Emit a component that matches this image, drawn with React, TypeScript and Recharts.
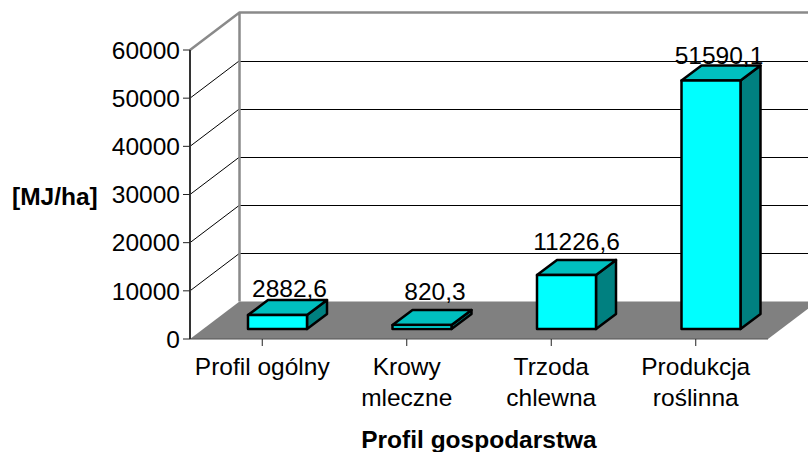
import { BarChart, Bar, XAxis, YAxis, CartesianGrid, LabelList } from 'recharts';

const categories = ['Profil ogólny', 'Krowy\nmleczne', 'Trzoda\nchlewna', 'Produkcja\nroślinna'];
const values = [2882.6, 820.3, 11226.6, 51590.1];
const yTicks = [0, 10000, 20000, 30000, 40000, 50000, 60000];

const data = categories.map((name, i) => ({ name, value: values[i] }));

const FONT = '"Liberation Sans", Arial, sans-serif';
const FONT_SIZE = 24.5;
const WIDTH = 808;
const HEIGHT = 452;
const PLOT_LEFT = 190;
const PLOT_BOTTOM = 339;
const PLOT_TOP = 50;
// 3D offsets of the old spreadsheet look
const WALL_DX = 49.5;
const WALL_DY = 37.5;
const BAR_DX = 15;
const BAR_DY = 10;
const DEPTH_DX = 20;
const DEPTH_DY = 15;
// labels were hand placed in the original
const labelNudge = [
  { dx: 12, dy: -18 },
  { dx: 13, dy: -25 },
  { dx: 10, dy: -25 },
  { dx: 8, dy: -17 },
];

function GridLine(props: any) {
  const { x1, x2, y1 } = props;
  const isFloor = Math.abs(y1 - PLOT_BOTTOM) < 1;
  const isTop = Math.abs(y1 - PLOT_TOP) < 1;
  const bx = x1 + WALL_DX;
  const by = y1 - WALL_DY;
  if (isFloor) {
    return (
      <polygon
        key="floor"
        points={`${x1},${y1} ${x2},${y1} ${x2 + WALL_DX},${by} ${bx},${by}`}
        fill="#808080"
      />
    );
  }
  if (isTop) {
    return (
      <path
        key="top"
        d={`M${x1},${y1} L${bx},${by} L${x2 + WALL_DX},${by} M${bx},${by} L${bx},${PLOT_BOTTOM - WALL_DY}`}
        fill="none"
        stroke="#8a8a8a"
        strokeWidth={2.5}
      />
    );
  }
  return (
    <g key={`line-${y1}`}>
      <line x1={x1} y1={y1} x2={bx} y2={by} stroke="#000" strokeWidth={1} />
      <line x1={bx} y1={by + 0.5} x2={x2 + WALL_DX} y2={by + 0.5} stroke="#000" strokeWidth={1} shapeRendering="crispEdges" />
    </g>
  );
}

function Box3D(props: any) {
  const { x, y, width, height } = props;
  const l = x + BAR_DX;
  const r = l + width;
  const t = y - BAR_DY;
  const b = t + height;
  const edge = { stroke: '#000', strokeWidth: 2.5, strokeLinejoin: 'round' as const };
  return (
    <g>
      <polygon
        points={`${r},${t} ${r + DEPTH_DX},${t - DEPTH_DY} ${r + DEPTH_DX},${b - DEPTH_DY} ${r},${b}`}
        fill="#008080"
        {...edge}
      />
      <polygon
        points={`${l},${t} ${l + DEPTH_DX},${t - DEPTH_DY} ${r + DEPTH_DX},${t - DEPTH_DY} ${r},${t}`}
        fill="#00bfbf"
        {...edge}
      />
      <rect x={l} y={t} width={width} height={height} fill="#00ffff" {...edge} />
    </g>
  );
}

function CategoryTick(props: any) {
  const { x, y, payload } = props;
  const lines = String(payload.value).split('\n');
  return (
    <text x={x} y={y} textAnchor="middle" fontFamily={FONT} fontSize={FONT_SIZE} fill="#000">
      {lines.map((line, i) => (
        <tspan key={line} x={x} y={y + 27 + i * 30.7}>
          {line}
        </tspan>
      ))}
    </text>
  );
}

function ValueLabel(props: any) {
  const { x, y, width, index, value } = props;
  const nudge = labelNudge[index];
  return (
    <text
      x={x + width / 2 + BAR_DX + nudge.dx}
      y={y - BAR_DY + nudge.dy}
      textAnchor="middle"
      fontFamily={FONT}
      fontSize={FONT_SIZE}
      fill="#000"
    >
      {String(value).replace('.', ',')}
    </text>
  );
}

export default function App() {
  return (
    <div style={{ position: 'absolute', left: 0, top: 0, width: WIDTH, height: HEIGHT }}>
      <BarChart
        width={WIDTH}
        height={HEIGHT}
        data={data}
        margin={{ top: PLOT_TOP, right: 40, bottom: 0, left: 0 }}
        barSize={59}
      >
        <CartesianGrid vertical={false} horizontal={(p: any) => <GridLine {...p} />} />
        <XAxis
          dataKey="name"
          height={HEIGHT - PLOT_BOTTOM}
          interval={0}
          tick={<CategoryTick />}
          tickSize={7}
          stroke="#000"
          axisLine={{ stroke: '#555', strokeWidth: 1 }}
          tickLine={{ stroke: '#222' }}
          label={{
            value: 'Profil gospodarstwa',
            position: 'insideBottom',
            offset: 4,
            style: { fontFamily: FONT, fontSize: FONT_SIZE, fontWeight: 700, fill: '#000' },
          }}
        />
        <YAxis
          width={PLOT_LEFT}
          domain={[0, 60000]}
          ticks={yTicks}
          interval={0}
          tickSize={7}
          tickMargin={3}
          axisLine={{ stroke: '#333', strokeWidth: 2 }}
          tickLine={{ stroke: '#222' }}
          tick={{ fontFamily: FONT, fontSize: FONT_SIZE, fill: '#000' }}
          label={{
            value: '[MJ/ha]',
            position: 'insideLeft',
            offset: 12,
            dy: 2,
            style: { fontFamily: FONT, fontSize: FONT_SIZE, fontWeight: 700, fill: '#000' },
          }}
        />
        <Bar dataKey="value" shape={<Box3D />} isAnimationActive={false}>
          <LabelList dataKey="value" content={<ValueLabel />} />
        </Bar>
      </BarChart>
    </div>
  );
}
